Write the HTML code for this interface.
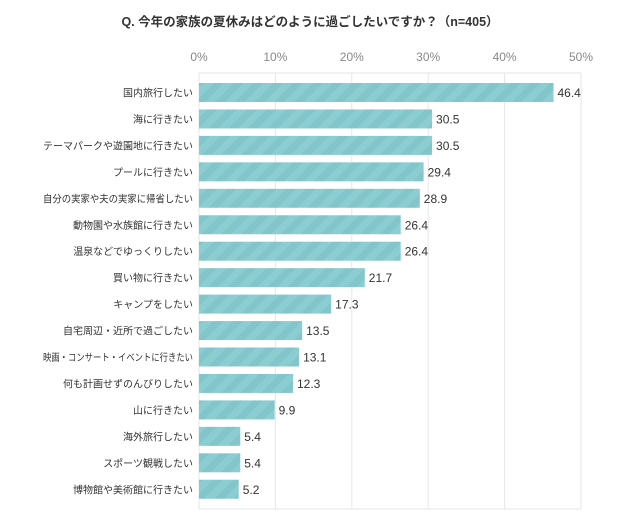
<!DOCTYPE html>
<html><head><meta charset="utf-8"><style>
body{margin:0;background:#fff;font-family:"Liberation Sans","Noto Sans CJK JP",sans-serif;}
</style></head><body>
<svg width="620" height="522" xmlns="http://www.w3.org/2000/svg" id="chart" style="font-family:'Liberation Sans','Noto Sans CJK JP',sans-serif">
<defs>
<pattern id="stripe" patternUnits="userSpaceOnUse" width="14" height="14" patternTransform="rotate(45)">
<rect width="14" height="14" fill="#8ccdd1"/><rect width="7" height="14" fill="#82c6cb"/>
</pattern>
</defs>
<text x="310" y="26" text-anchor="middle" font-size="12.5" font-weight="bold" fill="#333">Q. 今年の家族の夏休みはどのように過ごしたいですか？（n=405）</text>
<g id="grid"></g><g id="bars"></g>
</svg>
<script>
const categories=["国内旅行したい","海に行きたい","テーマパークや遊園地に行きたい","プールに行きたい","自分の実家や夫の実家に帰省したい","動物園や水族館に行きたい","温泉などでゆっくりしたい","買い物に行きたい","キャンプをしたい","自宅周辺・近所で過ごしたい","映画・コンサート・イベントに行きたい","何も計画せずのんびりしたい","山に行きたい","海外旅行したい","スポーツ観戦したい","博物館や美術館に行きたい"];
const values=[46.4,30.5,30.5,29.4,28.9,26.4,26.4,21.7,17.3,13.5,13.1,12.3,9.9,5.4,5.4,5.2];
const ticks=[0,10,20,30,40,50];
const NS="http://www.w3.org/2000/svg";
const x=v=>199+v*7.64;
const y=i=>92.5+i*26.45;
const grid=document.getElementById('grid'),bars=document.getElementById('bars');
function mk(tag,attrs,parent){const e=document.createElementNS(NS,tag);for(const k in attrs)e.setAttribute(k,attrs[k]);parent.appendChild(e);return e;}
ticks.forEach(t=>{
 const l=mk('line',{x1:x(t),x2:x(t),y1:73,y2:509,stroke:'#e6e6e6','stroke-width':1},grid);
 
 
 const tx=mk('text',{x:x(t),y:61,'text-anchor':'middle','font-size':12,fill:'#888'},grid);
 tx.textContent=t+'%';
 
 
});
const h=mk('line',{x1:199,x2:581,y1:73,y2:73,stroke:'#e6e6e6'},grid);


const b2=mk('line',{x1:199,x2:581,y1:509,y2:509,stroke:'#e6e6e6'},grid);


categories.forEach((c,i)=>{
 const r=mk('rect',{x:x(0),y:y(i)-9.5,width:x(values[i])-x(0),height:19,fill:'url(#stripe)'},bars);
 
 
 const v=mk('text',{x:x(values[i])+4,y:y(i)+4.5,'font-size':12,fill:'#333'},bars);
 v.textContent=values[i].toFixed(1);
 
 
 const l=mk('text',{x:193,y:y(i)+4,'text-anchor':'end','font-size':10,fill:'#333'},bars);
 l.textContent=c;
 
 
 const w=l.getComputedTextLength();
 if(w>150){l.setAttribute('textLength',150);l.setAttribute('lengthAdjust','spacingAndGlyphs');}
});
</script>
</body></html>
